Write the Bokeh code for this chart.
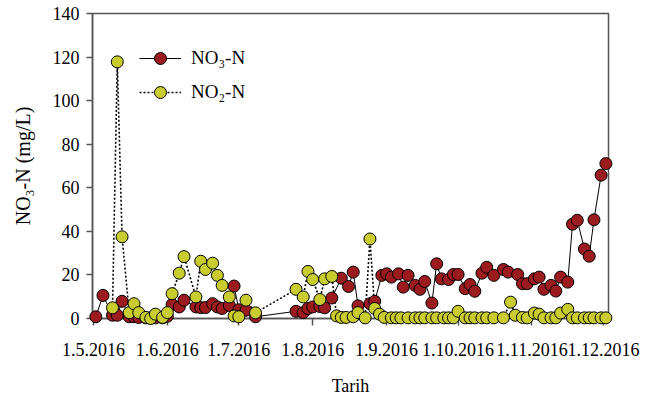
import pandas as pd
from bokeh.plotting import figure
from bokeh.models import FixedTicker, Legend, LegendItem, Range1d
from bokeh.embed import file_html
from bokeh.resources import INLINE

# ---- data ----
no3_dates = ["2016-05-02", "2016-05-05", "2016-05-09", "2016-05-11", "2016-05-13", "2016-05-16",
             "2016-05-18", "2016-05-20", "2016-05-23", "2016-05-25", "2016-05-27", "2016-05-30",
             "2016-06-01", "2016-06-03", "2016-06-06", "2016-06-08", "2016-06-13", "2016-06-15",
             "2016-06-17", "2016-06-20", "2016-06-22", "2016-06-24", "2016-06-27", "2016-06-29",
             "2016-07-01", "2016-07-04", "2016-07-08", "2016-07-25", "2016-07-28", "2016-07-30",
             "2016-08-01", "2016-08-04", "2016-08-06", "2016-08-09", "2016-08-13", "2016-08-16",
             "2016-08-18", "2016-08-20", "2016-08-25", "2016-08-27", "2016-08-30", "2016-09-01",
             "2016-09-03", "2016-09-06", "2016-09-08", "2016-09-10", "2016-09-13", "2016-09-15",
             "2016-09-17", "2016-09-20", "2016-09-22", "2016-09-24", "2016-09-27", "2016-09-29",
             "2016-10-01", "2016-10-04", "2016-10-06", "2016-10-08", "2016-10-11", "2016-10-13",
             "2016-10-16", "2016-10-20", "2016-10-22", "2016-10-26", "2016-10-28", "2016-10-30",
             "2016-11-02", "2016-11-04", "2016-11-06", "2016-11-09", "2016-11-11", "2016-11-13",
             "2016-11-16", "2016-11-18", "2016-11-20", "2016-11-23", "2016-11-25", "2016-11-27",
             "2016-11-30", "2016-12-02"]
no3_values = [0.8, 10.6, 1.5, 1.5, 7.9, 0.8,
              0.8, 0.5, 0.3, 0.3, 0.3, 0.3,
              1.0, 6.4, 5.3, 8.4, 5.3, 5.0,
              5.0, 6.8, 5.3, 4.6, 6.0, 14.9,
              4.0, 3.8, 0.8, 3.3, 2.7, 4.6,
              5.3, 5.5, 4.9, 9.4, 18.5, 14.7,
              21.3, 5.8, 6.8, 7.9, 19.8, 20.5,
              19.0, 20.5, 14.4, 19.8, 15.2, 13.4,
              17.0, 7.1, 25.1, 18.2, 17.9, 20.2,
              20.2, 13.7, 15.6, 12.5, 20.8, 23.5,
              19.8, 22.5, 21.3, 20.2, 16.0, 16.0,
              18.2, 19.0, 13.4, 15.2, 12.6, 19.0,
              16.7, 43.3, 45.1, 31.9, 28.6, 45.3,
              65.8, 71.1]

no2_dates = ["2016-05-09", "2016-05-11", "2016-05-13", "2016-05-16", "2016-05-18", "2016-05-20",
             "2016-05-23", "2016-05-25", "2016-05-27", "2016-05-30", "2016-06-01", "2016-06-03",
             "2016-06-06", "2016-06-08", "2016-06-13", "2016-06-15", "2016-06-17", "2016-06-20",
             "2016-06-22", "2016-06-24", "2016-06-27", "2016-06-29", "2016-07-01", "2016-07-04",
             "2016-07-08", "2016-07-25", "2016-07-28", "2016-07-30", "2016-08-01", "2016-08-04",
             "2016-08-06", "2016-08-09", "2016-08-11", "2016-08-13", "2016-08-15", "2016-08-18",
             "2016-08-20", "2016-08-23", "2016-08-25", "2016-08-27", "2016-08-29", "2016-08-31",
             "2016-09-03", "2016-09-05", "2016-09-07", "2016-09-10", "2016-09-13", "2016-09-15",
             "2016-09-17", "2016-09-20", "2016-09-22", "2016-09-25", "2016-09-27", "2016-09-29",
             "2016-10-01", "2016-10-04", "2016-10-06", "2016-10-08", "2016-10-11", "2016-10-13",
             "2016-10-16", "2016-10-20", "2016-10-23", "2016-10-25", "2016-10-28", "2016-10-30",
             "2016-11-02", "2016-11-04", "2016-11-06", "2016-11-09", "2016-11-11", "2016-11-13",
             "2016-11-16", "2016-11-18", "2016-11-20", "2016-11-23", "2016-11-25", "2016-11-27",
             "2016-11-30", "2016-12-02"]
no2_values = [4.9, 117.8, 37.5, 2.7, 6.8, 2.7,
              0.5, 0.0, 2.0, 0.5, 2.7, 11.4,
              20.8, 28.4, 9.9, 26.3, 22.5, 25.4,
              19.8, 15.2, 9.9, 1.2, 0.8, 8.4,
              2.6, 13.4, 9.9, 21.6, 17.9, 8.7,
              18.2, 19.3, 1.2, 0.5, 0.5, 0.8,
              2.7, 0.3, 36.5, 4.6, 2.0, 0.5,
              0.3, 0.3, 0.3, 0.3, 0.3, 0.3,
              0.3, 0.3, 0.3, 0.3, 0.3, 0.3,
              3.3, 0.3, 0.3, 0.3, 0.3, 0.3,
              0.3, 0.3, 7.5, 1.5, 0.5, 0.3,
              2.5, 2.0, 0.3, 0.3, 0.3, 2.5,
              4.2, 0.3, 0.3, 0.3, 0.3, 0.3,
              0.3, 0.3]

tick_dates = ["2016-05-01", "2016-06-01", "2016-07-01", "2016-08-01",
              "2016-09-01", "2016-10-01", "2016-11-01", "2016-12-01"]
tick_labels = ["1.5.2016", "1.6.2016", "1.7.2016", "1.8.2016",
               "1.9.2016", "1.10.2016", "1.11.2016", "1.12.2016"]
y_ticks = [0, 20, 40, 60, 80, 100, 120, 140]

series_names = ["NO\u2083-N", "NO\u2082-N"]
x_title = "Tarih"
y_title = "NO\u2083-N (mg/L)"

# ---- helpers ----
origin = pd.Timestamp("2016-05-01")


def to_days(dates):
    return [(pd.Timestamp(d) - origin).days for d in dates]


no3_x = to_days(no3_dates)
no2_x = to_days(no2_dates)
tick_x = to_days(tick_dates)

FONT = "Liberation Serif"
RED = "#9b1b1f"
YEL = "#c8cc2f"
AXIS_COLOR = "#555555"

p = figure(width=648, height=398, output_backend="svg", toolbar_location=None,
           x_range=Range1d(-0.4, 216.1), y_range=Range1d(0, 140),
           min_border_left=92, min_border_right=40, min_border_top=13, min_border_bottom=78)
p.background_fill_color = "white"
p.border_fill_color = "white"
p.outline_line_color = AXIS_COLOR
p.outline_line_width = 1.5
p.grid.visible = False

# NO3 series (solid line)
l1 = p.line(no3_x, no3_values, line_color="black", line_width=1)
g1 = p.scatter(no3_x, no3_values, marker="circle", size=12,
               fill_color=RED, line_color="black", line_width=1, level="overlay")
# NO2 series (dotted line)
l2 = p.line(no2_x, no2_values, line_color="black", line_width=1.6, line_dash="2 2")
g2 = p.scatter(no2_x, no2_values, marker="circle", size=12,
               fill_color=YEL, line_color="black", line_width=1, level="overlay")

# axes
p.xaxis.ticker = FixedTicker(ticks=tick_x)
p.xaxis.major_label_overrides = {x: lab for x, lab in zip(tick_x, tick_labels)}
p.yaxis.ticker = FixedTicker(ticks=y_ticks)
for ax in (p.xaxis, p.yaxis):
    ax.axis_line_color = AXIS_COLOR
    ax.axis_line_width = 1.5
    ax.major_tick_line_color = AXIS_COLOR
    ax.major_tick_line_width = 1.5
    ax.major_tick_in = 0
    ax.minor_tick_line_color = None
    ax.major_label_text_font = FONT
    ax.major_label_text_font_size = "18px"
    ax.major_label_text_color = "black"
    ax.axis_label_text_font = FONT
    ax.axis_label_text_font_style = "normal"
    ax.axis_label_text_color = "black"
p.xaxis.major_tick_out = 7
p.xaxis.major_label_standoff = 17
p.xaxis.axis_label = x_title
p.xaxis.axis_label_text_font_size = "18px"
p.xaxis.axis_label_standoff = 17
p.yaxis.major_tick_out = 6
p.yaxis.major_label_standoff = 7
p.yaxis.axis_label = y_title
p.yaxis.axis_label_text_font_size = "20px"
p.yaxis.axis_label_standoff = 16

legend = Legend(items=[LegendItem(label=series_names[0], renderers=[l1, g1]),
                       LegendItem(label=series_names[1], renderers=[l2, g2])],
                location=(47, 211), orientation="vertical",
                glyph_width=42, glyph_height=30, label_height=30, spacing=4,
                label_standoff=10, padding=0, margin=0,
                label_text_font=FONT, label_text_font_size="19px", label_text_color="black",
                border_line_color=None, background_fill_alpha=0)
p.add_layout(legend)

open("out.html", "w").write(file_html(p, INLINE))
